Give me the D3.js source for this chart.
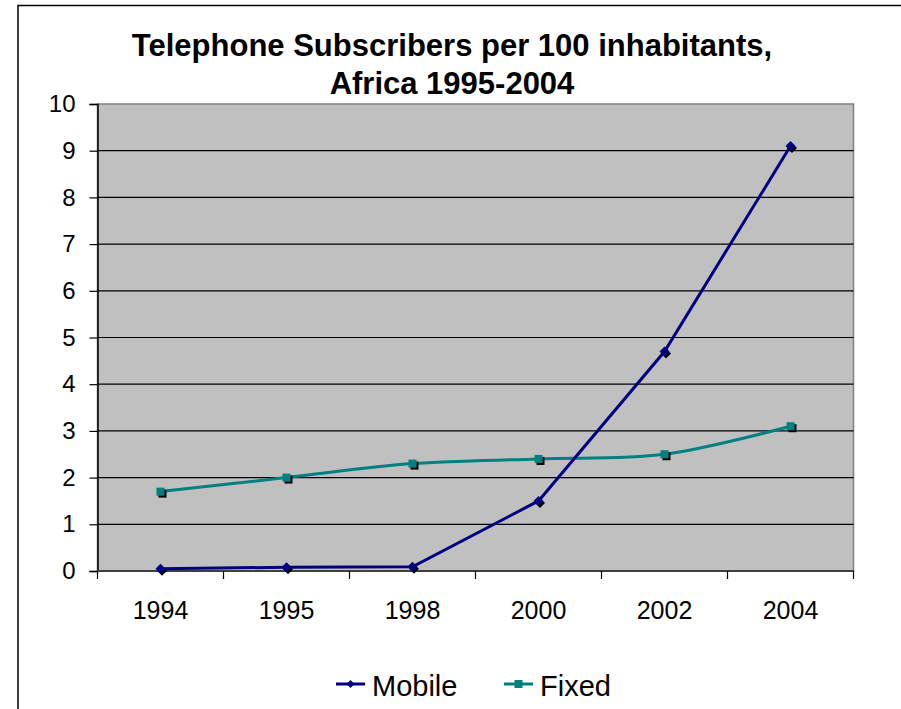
<!DOCTYPE html>
<html>
<head>
<meta charset="utf-8">
<script src="https://cdn.jsdelivr.net/npm/d3@7"></script>
<style>
  html, body { margin: 0; padding: 0; background: #fff; }
  svg { display: block; font-family: "Liberation Sans", Arial, sans-serif; }
</style>
</head>
<body>
<svg id="chart" width="901" height="709"></svg>
<script>
const categories = ["1994", "1995", "1998", "2000", "2002", "2004"];
const mobile = [0.05, 0.08, 0.09, 1.5, 4.7, 9.1];
const fixed = [1.7, 2.0, 2.3, 2.4, 2.5, 3.1];
const yTicks = [0, 1, 2, 3, 4, 5, 6, 7, 8, 9, 10];
const titleLines = ["Telephone Subscribers per 100 inhabitants,", "Africa 1995-2004"];
const seriesNames = ["Mobile", "Fixed"];

const svg = d3.select("#chart");
const W = 901, H = 709;
const plot = { left: 97.5, right: 853.5, top: 104, bottom: 571 };

// chart border
svg.append("rect")
  .attr("x", 18).attr("y", 5.5).attr("width", 910).attr("height", 720)
  .attr("fill", "#fff").attr("stroke", "#000").attr("stroke-width", 1.5);

const x = d3.scaleBand().domain(categories).range([plot.left, plot.right]).padding(0);
const y = d3.scaleLinear().domain([0, 10]).range([plot.bottom, plot.top]);

// plot background
svg.append("rect")
  .attr("x", plot.left).attr("y", plot.top)
  .attr("width", plot.right - plot.left).attr("height", plot.bottom - plot.top)
  .attr("fill", "#c0c0c0").attr("stroke", "#808080").attr("stroke-width", 1.5);

// gridlines
svg.append("g").selectAll("line").data(yTicks.filter(d => d > 0 && d < 10)).join("line")
  .attr("x1", plot.left).attr("x2", plot.right)
  .attr("y1", d => y(d)).attr("y2", d => y(d))
  .attr("stroke", "#000").attr("stroke-width", 1.2);

// y axis
const yAxis = d3.axisLeft(y).tickValues(yTicks).tickSize(8).tickPadding(14).tickFormat(d3.format("d"));
const gy = svg.append("g").attr("transform", `translate(${plot.left},0)`).call(yAxis);
gy.select(".domain").attr("stroke", "#000").attr("stroke-width", 1.5);
gy.selectAll(".tick line").attr("stroke", "#000").attr("stroke-width", 1.2);
gy.selectAll(".tick text").attr("font-size", 24).attr("fill", "#000")
  .attr("font-family", "'Liberation Sans', Arial, sans-serif");

// x axis with ticks at band boundaries
const gx = svg.append("g").attr("transform", `translate(0,${plot.bottom})`);
gx.append("line").attr("x1", plot.left).attr("x2", plot.right).attr("y1", 0).attr("y2", 0)
  .attr("stroke", "#404040").attr("stroke-width", 2);
const bounds = categories.map(c => x(c)).concat([x(categories[categories.length - 1]) + x.bandwidth()]);
gx.selectAll("line.tk").data(bounds).join("line").attr("class", "tk")
  .attr("x1", d => d).attr("x2", d => d).attr("y1", 0).attr("y2", 8)
  .attr("stroke", "#000").attr("stroke-width", 1.2);
gx.selectAll("text").data(categories).join("text")
  .attr("x", d => x(d) + x.bandwidth() / 2).attr("y", 48)
  .attr("text-anchor", "middle").attr("font-size", 25).attr("fill", "#000")
  .text(d => d);

// lines
const cx = (d, i) => x(categories[i]) + x.bandwidth() / 2;
const lineLinear = d3.line().x(cx).y(d => y(d));
const lineSmooth = d3.line().x(cx).y(d => y(d)).curve(d3.curveCardinal.tension(0));

svg.append("path").datum(fixed).attr("d", lineSmooth)
  .attr("fill", "none").attr("stroke", "#008080").attr("stroke-width", 3);
svg.append("path").datum(mobile).attr("d", lineLinear)
  .attr("fill", "none").attr("stroke", "#000080").attr("stroke-width", 3);

// markers
const diamond = s => `M0,${-s}L${s},0L0,${s}L${-s},0Z`;
const gm = svg.append("g");
gm.selectAll("path.ms").data(mobile).join("path").attr("class", "ms")
  .attr("transform", (d, i) => `translate(${cx(d, i) + 1.5},${y(d) + 2})`)
  .attr("d", diamond(5)).attr("fill", "#000");
gm.selectAll("path.m").data(mobile).join("path").attr("class", "m")
  .attr("transform", (d, i) => `translate(${cx(d, i)},${y(d)})`)
  .attr("d", diamond(5)).attr("fill", "#000080");

const gf = svg.append("g");
gf.selectAll("rect.fs").data(fixed).join("rect").attr("class", "fs")
  .attr("x", (d, i) => cx(d, i) - 4 + 2).attr("y", d => y(d) - 4 + 2)
  .attr("width", 8).attr("height", 8).attr("fill", "#000");
gf.selectAll("rect.f").data(fixed).join("rect").attr("class", "f")
  .attr("x", (d, i) => cx(d, i) - 4).attr("y", d => y(d) - 4)
  .attr("width", 8).attr("height", 8).attr("fill", "#008080");

// title
svg.append("g").selectAll("text").data(titleLines).join("text")
  .attr("x", 452).attr("y", (d, i) => 56 + i * 38)
  .attr("text-anchor", "middle").attr("font-size", 31).attr("font-weight", "bold")
  .attr("fill", "#000").text(d => d);

// legend
const legend = svg.append("g");
const legItems = [
  { name: seriesNames[0], color: "#000080", shape: "diamond", x0: 336, tx: 372 },
  { name: seriesNames[1], color: "#008080", shape: "square", x0: 504, tx: 540 }
];
legItems.forEach(it => {
  const g = legend.append("g");
  g.append("line").attr("x1", it.x0).attr("x2", it.x0 + 29).attr("y1", 684).attr("y2", 684)
    .attr("stroke", it.color).attr("stroke-width", 3);
  if (it.shape === "diamond") {
    g.append("path").attr("transform", `translate(${it.x0 + 14.5},684)`).attr("d", diamond(4)).attr("fill", it.color);
  } else {
    g.append("rect").attr("x", it.x0 + 14.5 - 4).attr("y", 680).attr("width", 8).attr("height", 8).attr("fill", it.color);
  }
  g.append("text").attr("x", it.tx).attr("y", 696).attr("font-size", 29).attr("fill", "#000").text(it.name);
});
</script>
</body>
</html>
